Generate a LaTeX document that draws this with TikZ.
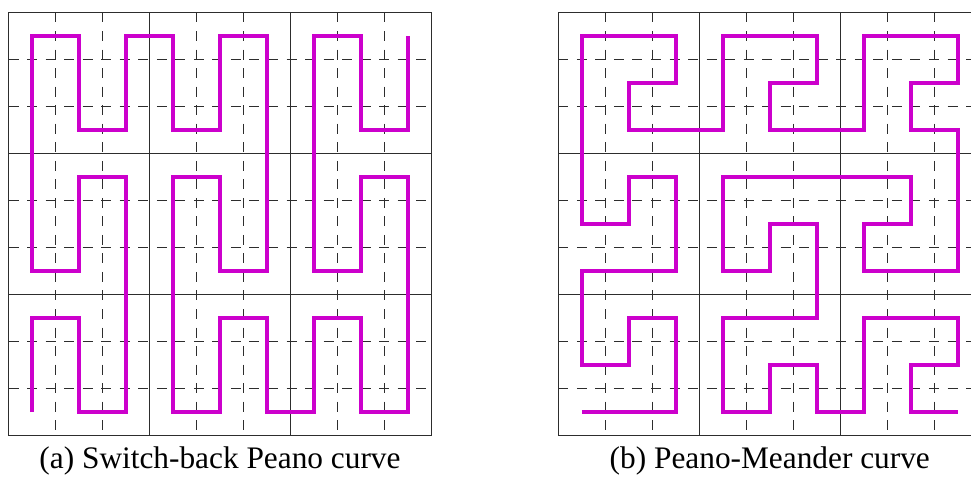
\documentclass[tikz,border=0pt]{standalone}
\usepackage{fontspec}
\setmainfont{Liberation Serif}
\definecolor{curvecol}{RGB}{204,0,204}
\definecolor{gridcol}{RGB}{45,45,45}
\newcommand\peanogrid[2]{%
  \foreach \k in {1,2,4,5,7,8} {
    \draw[minorline] (#1+\k*47,#2) -- ++(0,423);
    \draw[minorline] (#1,#2+\k*47) -- ++(423,0);
  }
  \foreach \k in {3,6} {
    \draw[majorline] (#1+\k*47,#2) -- ++(0,423);
    \draw[majorline] (#1,#2+\k*47) -- ++(423,0);
  }
  \draw[majorline] (#1,#2) rectangle ++(423,423);
}
\begin{document}
\begin{tikzpicture}[x=0.75pt,y=-0.75pt,
  majorline/.style={draw=gridcol,line width=0.9pt},
  minorline/.style={draw=gridcol,line width=0.7pt,dash pattern=on 7.5pt off 6.4pt},
  curve/.style={draw=curvecol,line width=3.4pt,line join=miter,line cap=butt},
  caption/.style={anchor=base,inner sep=0pt,font=\fontsize{23.5pt}{28pt}\selectfont}]
\useasboundingbox (0,0) rectangle (971,477);
\clip (0,0) rectangle (971,477);
% grids
\peanogrid{8.5}{12.5}
\peanogrid{558.3}{12.5}
% switch-back Peano curve
\begin{scope}[xshift=24pt,yshift=-27pt,x=35.25pt,y=-35.25pt]
\draw[curve] (0,8) -- (0,6) -- (1,6) -- (1,8) -- (2,8) -- (2,3) -- (1,3) -- (1,5) -- (0,5) -- (0,0) -- (1,0) -- (1,2) -- (2,2) -- (2,0) -- (3,0) -- (3,2) -- (4,2) -- (4,0) -- (5,0) -- (5,5) -- (4,5) -- (4,3) -- (3,3) -- (3,8) -- (4,8) -- (4,6) -- (5,6) -- (5,8) -- (6,8) -- (6,6) -- (7,6) -- (7,8) -- (8,8) -- (8,3) -- (7,3) -- (7,5) -- (6,5) -- (6,0) -- (7,0) -- (7,2) -- (8,2) -- (8,0);
\end{scope}
% Peano-Meander curve
\begin{scope}[xshift=436.35pt,yshift=-27pt,x=35.25pt,y=-35.25pt]
\draw[curve] (0,8) -- (2,8) -- (2,6) -- (1,6) -- (1,7) -- (0,7) -- (0,5) -- (2,5) -- (2,3) -- (1,3) -- (1,4) -- (0,4) -- (0,0) -- (2,0) -- (2,1) -- (1,1) -- (1,2) -- (3,2) -- (3,0) -- (5,0) -- (5,1) -- (4,1) -- (4,2) -- (6,2) -- (6,0) -- (8,0) -- (8,1) -- (7,1) -- (7,2) -- (8,2) -- (8,5) -- (6,5) -- (6,4) -- (7,4) -- (7,3) -- (3,3) -- (3,5) -- (4,5) -- (4,4) -- (5,4) -- (5,6) -- (3,6) -- (3,8) -- (4,8) -- (4,7) -- (5,7) -- (5,8) -- (6,8) -- (6,6) -- (8,6) -- (8,7) -- (7,7) -- (7,8) -- (8,8);
\end{scope}
% captions
\node[caption] (capa) at (220,468.5) {(a) Switch-back Peano curve};
\node[caption] (capb) at (769.8,468.5) {(b) Peano-Meander curve};
\end{tikzpicture}
\end{document}
